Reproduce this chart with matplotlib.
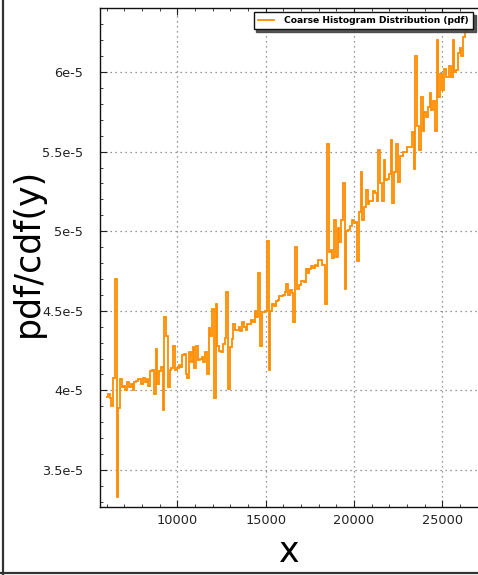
import numpy as np
import matplotlib
matplotlib.use("Agg")
import matplotlib.pyplot as plt
from matplotlib.ticker import MultipleLocator, FuncFormatter
from matplotlib.lines import Line2D

# ---- data (pdf values in units of 1e-5) ----
bin_start = 5970
bin_width = 100
pdf_values = [
    3.96, 3.98, 3.95, 3.90, 4.08, 4.70, 3.33, 3.89, 4.07, 4.02,
    4.03, 4.00, 4.05, 4.02, 4.04, 4.00, 4.05, 4.06, 4.07, 4.07,
    4.04, 4.08, 4.05, 4.07, 4.03, 4.12, 4.13, 3.98, 4.26, 4.04,
    4.12, 4.15, 3.88, 4.46, 4.34, 4.02, 4.13, 4.14, 4.28, 4.13,
    4.14, 4.16, 4.15, 4.22, 4.23, 4.10, 4.08, 4.24, 4.18, 4.27,
    4.14, 4.28, 4.19, 4.20, 4.21, 4.18, 4.24, 4.10, 4.39, 4.34,
    4.51, 3.95, 4.54, 4.28, 4.25, 4.24, 4.29, 4.33, 4.62, 4.01,
    4.27,
    4.32, 4.42, 4.38, 4.38, 4.40, 4.37, 4.43, 4.40, 4.38, 4.42,
    4.42, 4.44, 4.43, 4.50, 4.46, 4.74, 4.28, 4.49, 4.49, 4.50,
    4.94, 4.13, 4.50, 4.54, 4.53, 4.56, 4.57, 4.59, 4.59, 4.60,
    4.62, 4.67, 4.60, 4.63, 4.61, 4.43, 4.90, 4.64, 4.66, 4.69,
    4.69, 4.68, 4.76, 4.74, 4.76, 4.78, 4.77, 4.79, 4.78, 4.82,
    4.82, 4.79, 4.79, 4.54, 5.55, 4.87, 4.88, 4.83, 5.07, 4.84,
    5.02, 4.93, 5.07, 5.30, 4.64, 5.00, 5.01, 5.03, 5.07, 5.05,
    5.06, 4.81, 5.12, 5.37, 5.07, 5.15, 5.26, 5.17, 5.19, 5.19,
    5.25, 5.24, 5.19, 5.51, 5.30, 5.19, 5.45, 5.32, 5.33, 5.36,
    5.57, 5.18, 5.37, 5.55, 5.31, 5.47, 5.47, 5.50, 5.50, 5.53,
    5.53, 5.53, 5.62, 5.39, 6.10, 5.66, 5.51, 5.84, 5.63, 5.75,
    5.72, 5.78, 5.87, 5.76, 5.82, 5.63, 6.20, 5.84, 5.99, 5.89,
    6.02, 5.97, 5.97, 6.04, 5.97, 6.20, 6.00, 6.01, 6.12, 6.15,
    6.10, 6.22, 6.25, 6.28, 6.33,
]
y_scale = 1e-5
series_label = "Coarse Histogram Distribution (pdf)"
x_label = "x"
y_label = "pdf/cdf(y)"
x_ticks = [10000, 15000, 20000, 25000]
y_ticks = [3.5, 4.0, 4.5, 5.0, 5.5, 6.0]

values = np.array(pdf_values) * y_scale
edges = bin_start + bin_width * np.arange(len(pdf_values) + 1)

W, H = 478, 575
fig = plt.figure(figsize=(W / 100, H / 100), dpi=100)
fig.patch.set_facecolor("white")

left, right, top, bottom = 100, 478, 8, 507
ax = fig.add_axes([left / W, (H - bottom) / H, (right - left) / W, (bottom - top) / H])

ax.stairs(values, edges, baseline=None, color="#ff8c00", lw=1.3,
          label=series_label, zorder=3)

ax.set_xlim(5628, 27008)
ax.set_ylim(3.2676e-5, 6.402e-5)

ax.set_xticks(x_ticks)
ax.set_yticks([v * y_scale for v in y_ticks])
ax.xaxis.set_minor_locator(MultipleLocator(1000))
ax.yaxis.set_minor_locator(MultipleLocator(0.1e-5))
ax.yaxis.set_major_formatter(FuncFormatter(lambda v, p: f"{v / y_scale:g}e-5"))
ax.xaxis.set_major_formatter(FuncFormatter(lambda v, p: f"{int(round(v))}"))

ax.tick_params(which="both", direction="in", top=True, right=False, colors="#222222")
ax.tick_params(which="major", length=5, width=0.8, labelsize=9.3)
ax.tick_params(which="minor", length=2.5, width=0.6)
ax.tick_params(axis="y", which="major", pad=12)
ax.tick_params(axis="x", which="major", pad=5)

for s in ["left", "bottom", "top"]:
    ax.spines[s].set_color("#111111")
    ax.spines[s].set_linewidth(1.0)
ax.spines["right"].set_visible(False)

ax.grid(True, which="major", color="#777777", linestyle=(0, (1, 3)), linewidth=0.9)
ax.set_axisbelow(True)

ax.set_xlabel(x_label, fontsize=25, labelpad=6)
ax.set_ylabel(y_label, fontsize=25)
ax.yaxis.set_label_coords((45 - left) / (right - left), (bottom - 252) / (bottom - top))

leg = ax.legend(loc="upper right", bbox_to_anchor=(0.987, 0.992), borderaxespad=0,
                prop={"size": 6.6, "weight": "bold"}, fancybox=False,
                shadow={"color": "#444444", "alpha": 0.9},
                handlelength=1.8, handletextpad=1.1, borderpad=0.45, framealpha=1)
leg.get_frame().set_edgecolor("#111111")
leg.get_frame().set_linewidth(1.0)
leg.set_zorder(5)

# figure border (left and bottom visible edges)
fig.add_artist(Line2D([2.7 / W, 2.7 / W], [0, 1], transform=fig.transFigure,
                      color="#333333", lw=1.6))
fig.add_artist(Line2D([0, 1], [(H - 573.2) / H, (H - 573.2) / H], transform=fig.transFigure,
                      color="#333333", lw=1.6))

fig.savefig("out.png", dpi=100, facecolor="white")
